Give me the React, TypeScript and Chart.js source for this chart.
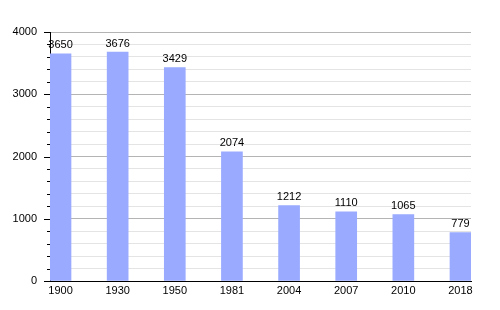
import React, { useEffect, useRef } from "react";
import { Chart, registerables } from "chart.js";

Chart.register(...registerables);

const years = ["1900", "1930", "1950", "1981", "2004", "2007", "2010", "2018"];
const population = [3650, 3676, 3429, 2074, 1212, 1110, 1065, 779];
const yTickLabels = ["0", "1000", "2000", "3000", "4000"];

const FONT = "'Liberation Sans', Arial, sans-serif";

const valueLabels = {
  id: "valueLabels",
  afterDatasetsDraw(chart: any) {
    const ctx = chart.ctx;
    const meta = chart.getDatasetMeta(0);
    ctx.save();
    ctx.font = `11px ${FONT}`;
    ctx.fillStyle = "#000";
    ctx.textAlign = "center";
    ctx.textBaseline = "bottom";
    meta.data.forEach((el: any, i: number) => {
      ctx.fillText(String(population[i]), el.x, el.y - 3);
    });
    ctx.restore();
  },
};

const yTickMarks = {
  id: "yTickMarks",
  afterDraw(chart: any) {
    const ctx = chart.ctx;
    const y = chart.scales.y;
    const left = chart.chartArea.left;
    ctx.save();
    ctx.strokeStyle = "#000";
    ctx.lineWidth = 1;
    y.ticks.forEach((t: any) => {
      const py = Math.round(y.getPixelForValue(t.value)) + 0.5;
      const len = t.value % 1000 === 0 ? 6 : 3;
      ctx.beginPath();
      ctx.moveTo(left - len, py);
      ctx.lineTo(left, py);
      ctx.stroke();
    });
    ctx.restore();
  },
};

export default function App() {
  const ref = useRef<HTMLCanvasElement>(null);
  useEffect(() => {
    if (!ref.current) return;
    const chart = new Chart(ref.current, {
      type: "bar",
      data: {
        datasets: [
          {
            data: population.map((v, i) => ({ x: i, y: v })),
            backgroundColor: "#99aaff",
            borderWidth: 0,
            barThickness: 21,
          },
        ],
      },
      options: {
        responsive: false,
        animation: false,
        layout: { padding: { top: 32, right: 29, left: 0, bottom: 0 } },
        plugins: { legend: { display: false }, tooltip: { enabled: false } },
        scales: {
          x: {
            type: "linear",
            offset: false,
            min: -0.184,
            max: 7.184,
            afterBuildTicks: (scale: any) => {
              scale.ticks = years.map((_, i) => ({ value: i }));
            },
            afterFit: (scale: any) => {
              scale.height = 29;
              scale.paddingLeft = 0;
              scale.paddingRight = 0;
            },
            ticks: {
              callback: (v: any) => years[v as number] ?? "",
              color: "#000",
              font: { family: FONT, size: 11 },
              padding: 3,
              maxRotation: 0,
              autoSkip: false,
            },
            grid: { display: false, drawTicks: false, offset: false },
            border: { color: "#000", width: 1 },
          },
          y: {
            min: 0,
            max: 4000,
            afterFit: (scale: any) => {
              scale.width = 50;
            },
            ticks: {
              stepSize: 200,
              callback: (v: any) =>
                (v as number) % 1000 === 0 ? yTickLabels[(v as number) / 1000] : "",
              color: "#000",
              font: { family: FONT, size: 11 },
              padding: 13,
              autoSkip: false,
            },
            grid: {
              drawTicks: false,
              color: (c: any) =>
                c.tick && c.tick.value % 1000 === 0 ? "#b4b4b4" : "#e4e4e4",
            },
            border: { color: "#000", width: 1 },
          },
        },
      },
      plugins: [valueLabels, yTickMarks],
    });
    return () => chart.destroy();
  }, []);
  return (
    <div style={{ position: "absolute", left: 0, top: 0, width: 500, height: 310, background: "#fff" }}>
      <canvas ref={ref} width={500} height={310} />
    </div>
  );
}
